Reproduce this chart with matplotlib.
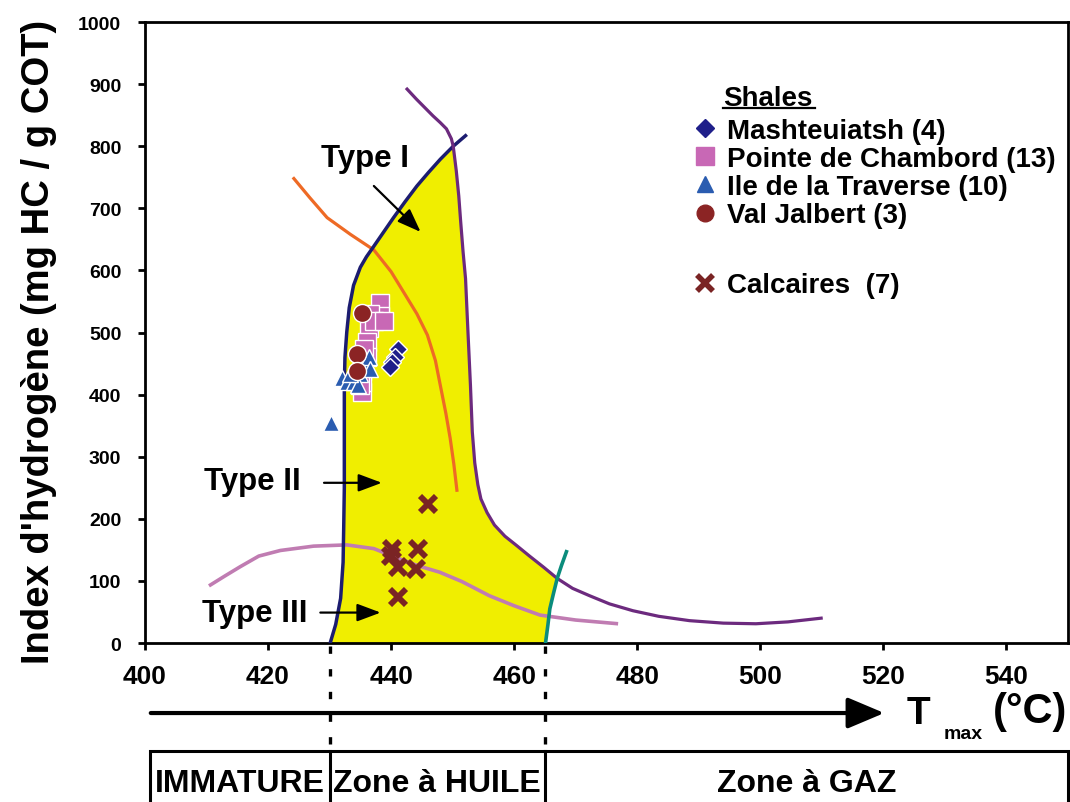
import matplotlib
matplotlib.use("Agg")
import matplotlib.pyplot as plt
import numpy as np
from matplotlib import font_manager
from matplotlib.lines import Line2D
from matplotlib.patches import Rectangle, FancyArrowPatch
from matplotlib.transforms import blended_transform_factory

names = {f.name for f in font_manager.fontManager.ttflist}
NARROW = "Liberation Sans Narrow" if "Liberation Sans Narrow" in names else "Liberation Sans"
plt.rcParams["font.family"] = ["Liberation Sans", "DejaVu Sans"]
plt.rcParams["font.weight"] = "bold"

# --- curves (Tmax °C, IH) ---
type1_t = [430.1, 431.0, 431.8, 432.2, 432.3, 432.4, 432.4, 432.4, 432.4, 432.5, 432.8, 433.2,
           433.9, 435.0, 436.0, 437.2, 438.8, 440.4, 442.3, 444.2, 446.1, 448.0, 450.1, 452.1]
type1_h = [0, 30, 72, 130, 186, 250, 301, 360, 415, 460, 501, 540,
           576, 605, 622, 639, 662, 685, 711, 736, 758, 779, 800, 817]

purple_t = [442.6, 444.1, 445.5, 446.8, 448.0, 449.0, 449.8, 450.1, 450.6, 451.0, 451.3, 451.7,
            452.1, 452.5, 452.9, 453.2, 453.6, 454.1, 454.6, 455.6, 456.8, 458.5, 460.4, 462.5,
            464.8, 467.0, 469.5, 472.3, 475.5, 479.3, 483.5, 488.5, 494.0, 499.3, 504.5, 509.9]
purple_h = [892, 876, 862, 849, 838, 828, 812, 800, 760, 720, 680, 630,
            587, 500, 415, 340, 290, 255, 232, 210, 190, 172, 157, 140,
            122, 104, 88, 76, 63, 52, 43, 36, 32, 31, 34, 40]

green_t = [465.1, 465.5, 465.8, 466.4, 467.0, 467.7, 468.5]
green_h = [0, 30, 55, 80, 104, 125, 147]

orange_t = [424.2, 426.8, 429.6, 433.4, 437.2, 440.0, 442.1, 444.2, 445.9, 447.2, 448.0,
            448.9, 449.6, 450.2, 450.7]
orange_h = [748, 717, 685, 658, 633, 598, 564, 530, 496, 455, 415, 370, 330, 288, 246]

pink_t = [410.4, 413.0, 415.5, 418.5, 422.0, 427.4, 432.8, 437.2, 441.5, 444.5, 447.9,
          451.5, 456.0, 460.0, 464.2, 470.0, 476.9]
pink_h = [92, 108, 123, 140, 149, 156, 158, 152, 135, 124, 114, 99, 76, 60, 45, 37, 31]

# --- samples ---
mash_t = [441.2, 440.7, 440.2, 439.9]
mash_h = [473, 461, 453, 444]

pointe_t = [438.2, 438.2, 436.6, 436.4, 436.1, 436.1, 435.3, 435.3, 435.3, 437.2, 438.8, 435.6, 435.0]
pointe_h = [547, 527, 530, 507, 484, 461, 438, 404, 421, 519, 519, 473, 415]

ile_t = [430.2, 432.0, 432.8, 433.9, 435.0, 436.1, 436.4, 436.6, 434.7, 433.3]
ile_h = [355, 427, 421, 421, 433, 450, 461, 441, 415, 433]

val_t = [435.2, 434.4, 434.4]
val_h = [531, 466, 438]

calc_t = [446.0, 440.1, 444.4, 441.1, 444.1, 441.1, 440.0]
calc_h = [224, 151, 151, 122, 119, 74, 140]

zone_limits = [430, 465]
zone_names = ["IMMATURE", "Zone à HUILE", "Zone à GAZ"]

fig = plt.figure(figsize=(10.7, 8.03), dpi=100)
ax = fig.add_axes([0.1355, 0.198, 0.8625, 0.7733])

# yellow oil window: Type I up to the purple line, purple down to the green line, green to the axis
i1 = type1_t.index(450.1)
ip = purple_t.index(450.1)
ig = purple_t.index(467.0)
poly_t = type1_t[:i1 + 1] + purple_t[ip:ig + 1] + green_t[::-1][2:]
poly_h = type1_h[:i1 + 1] + purple_h[ip:ig + 1] + green_h[::-1][2:]
ax.fill(poly_t, poly_h, color="#f0ee00", zorder=1, lw=0)

ax.plot(pink_t, pink_h, color="#c07cb2", lw=2.6, zorder=2, solid_capstyle="butt")
ax.plot(orange_t, orange_h, color="#ee6a25", lw=2.3, zorder=2)
ax.plot(type1_t, type1_h, color="#1c1c70", lw=2.5, zorder=3)
ax.plot(purple_t, purple_h, color="#6c2a7e", lw=2.3, zorder=3)
ax.plot(green_t, green_h, color="#0b8c7c", lw=2.6, zorder=3)

ax.plot(calc_t, calc_h, "x", color="#7a2424", ms=12, mew=4.2, zorder=5)
ax.plot(pointe_t, pointe_h, "s", color="#c868b5", ms=13, mec="white", mew=1, zorder=5)
ax.plot(ile_t, ile_h, "^", color="#2a5cb0", ms=11, mec="white", mew=1, zorder=6)
ax.plot(val_t, val_h, "o", color="#8b2424", ms=13, mec="white", mew=1, zorder=7)
ax.plot(mash_t, mash_h, "D", color="#1f1f8a", ms=9, mec="white", mew=1, zorder=6)

ax.set_xlim(400, 550)
ax.set_ylim(0, 1000)
ax.set_xticks(np.arange(400, 541, 20))
ax.set_yticks(np.arange(0, 1001, 100))
for s in ax.spines.values():
    s.set_linewidth(2)
ax.tick_params(axis="both", direction="out", length=5, width=2)
ax.tick_params(axis="y", labelsize=14, pad=12)
ax.tick_params(axis="x", labelsize=19, pad=10)
for lab in ax.get_xticklabels():
    lab.set_family(NARROW)
    lab.set_weight("bold")
for lab in ax.get_yticklabels():
    lab.set_weight("bold")

fig.text(0.036, 0.574, "Index d'hydrogène (mg HC / g COT)", rotation=90,
         ha="center", va="center", fontsize=27.5, weight="bold")

# type annotations
tfs = 22.5
arrow_kw = dict(arrowstyle="-|>,head_length=0.8,head_width=0.3", color="black", lw=1.6,
                mutation_scale=18, shrinkA=0, shrinkB=0)
ax.text(435.7, 781, "Type I", ha="center", va="center", fontsize=tfs, weight="bold")
ax.annotate("", xy=(444.8, 662), xytext=(437.2, 736), arrowprops=arrow_kw)
ax.text(417.4, 261, "Type II", ha="center", va="center", fontsize=tfs, weight="bold")
ax.annotate("", xy=(438.5, 258), xytext=(429.1, 258), arrowprops=arrow_kw)
ax.text(417.8, 49, "Type III", ha="center", va="center", fontsize=tfs, weight="bold")
ax.annotate("", xy=(438.3, 49), xytext=(428.5, 49), arrowprops=arrow_kw)

# legend
lfs = 20
ax.text(0.6265, 0.878, "Shales", transform=ax.transAxes, fontsize=lfs, weight="bold",
        ha="left", va="center")
ax.plot([0.6265, 0.7255], [0.862, 0.862], transform=ax.transAxes, color="black", lw=1.6)
handles = [
    Line2D([], [], ls="", marker="D", color="#1f1f8a", ms=9),
    Line2D([], [], ls="", marker="s", color="#c868b5", ms=13),
    Line2D([], [], ls="", marker="^", color="#2a5cb0", ms=12),
    Line2D([], [], ls="", marker="o", color="#8b2424", ms=12),
]
labels = ["Mashteuiatsh (4)", "Pointe de Chambord (13)", "Ile de la Traverse (10)", "Val Jalbert (3)"]
leg = ax.legend(handles, labels, loc="upper left", bbox_to_anchor=(0.592, 0.846),
                frameon=False, handlelength=1.0, handletextpad=0.3,
                labelspacing=0.08, borderpad=0, borderaxespad=0,
                prop={"size": lfs, "weight": "bold"})
ax.add_artist(leg)
ax.legend([Line2D([], [], ls="", marker="x", color="#7a2424", ms=12, mew=4)],
          ["Calcaires  (7)"], loc="upper left", bbox_to_anchor=(0.592, 0.597),
          frameon=False, handlelength=1.0, handletextpad=0.3, borderpad=0, borderaxespad=0,
          prop={"size": lfs, "weight": "bold"})

# maturity scale below the axes
bt = blended_transform_factory(ax.transData, fig.transFigure)
y_arrow = 0.1108
y_box = 0.0635
fig.patches.append(FancyArrowPatch((0.1383, y_arrow), (0.829, y_arrow), transform=fig.transFigure,
                                   arrowstyle="-|>,head_length=0.9,head_width=0.38",
                                   mutation_scale=25, lw=3, color="black"))
fig.text(0.858, y_arrow, "T", fontsize=28, family=NARROW, weight="bold", ha="center", va="center")
fig.text(0.900, y_arrow - 0.025, "max", fontsize=14, family=NARROW, weight="bold",
         ha="center", va="center")
fig.text(0.963, y_arrow + 0.002, "(°C)", fontsize=30, family=NARROW, weight="bold",
         ha="center", va="center")

for xl in zone_limits:
    fig.add_artist(Line2D([xl, xl], [0.1943, y_box], transform=bt, color="black", lw=2.4,
                          ls=(0, (2.2, 4.6))))
    fig.add_artist(Line2D([xl, xl], [y_box, 0.0], transform=bt, color="black", lw=2.2))
fig.add_artist(Rectangle((0.1402, -0.05), 0.858, y_box + 0.05, transform=fig.transFigure,
                         fill=False, lw=2.2, color="black"))
bounds = [400.8] + zone_limits + [550]
for name, a, b in zip(zone_names, bounds[:-1], bounds[1:]):
    fig.text((a + b) / 2, 0.024, name, transform=bt, fontsize=23, family=NARROW, weight="bold",
             ha="center", va="center")

fig.savefig("out.png", dpi=100)
